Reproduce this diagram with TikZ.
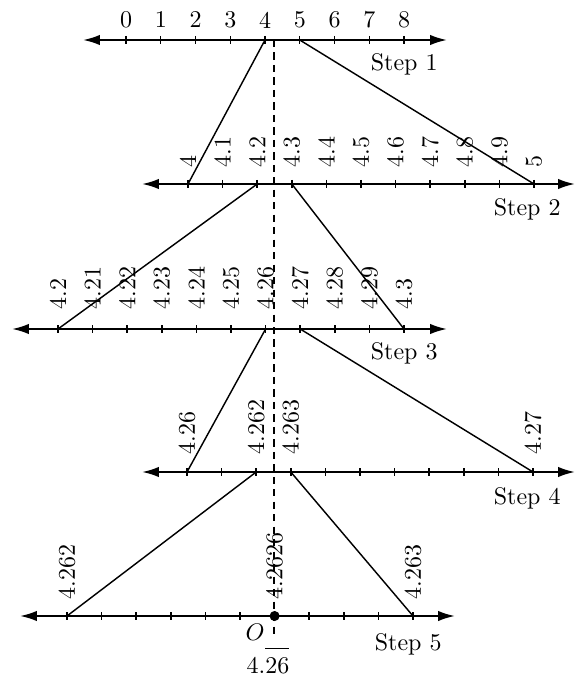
\documentclass[tikz,border=0pt]{standalone}
\usetikzlibrary{arrows.meta}
\begin{document}
\begin{tikzpicture}[x=0.4167pt,y=-0.4167pt,
  axis/.style={line width=0.8pt,{Latex[length=7pt,width=4.3pt]}-{Latex[length=7pt,width=4.3pt]}},
  tickmark/.style={line width=0.6pt},
  link/.style={line width=0.6pt},
  guide/.style={line width=0.6pt,dash pattern=on 3pt off 2.2pt},
  num/.style={inner sep=0pt},
  vnum/.style={rotate=90,anchor=west,inner sep=0pt},
  steplabel/.style={anchor=base east,inner sep=0pt},
  dotnode/.style={circle,fill,inner sep=0pt,minimum size=4.2pt}]
\useasboundingbox (0,0) rectangle (584,677);

% guide line
\coordinate (gtop) at (274,40);
\coordinate (gbot) at (274,637);
\draw[guide] (gtop) -- (gbot);

% ---------- Row 1 ----------
\coordinate (a1L) at (83,40); \coordinate (a1R) at (447,40);
\draw[axis] (a1L) -- (a1R);
\foreach \i in {0,...,8} {
  \coordinate (r1t\i) at ({126+34.75*\i},40);
  \draw[tickmark] (r1t\i) ++(0,-4) -- ++(0,8);
  \node[num] (r1n\i) at ({126+34.75*\i},20) {\i};
}
\node[steplabel] (s1) at (438,71) {Step 1};

% ---------- Row 2 ----------
\coordinate (a2L) at (142,184); \coordinate (a2R) at (575,184);
\draw[axis] (a2L) -- (a2R);
\foreach \i/\l in {0/4,1/4.1,2/4.2,3/4.3,4/4.4,5/4.5,6/4.6,7/4.7,8/4.8,9/4.9,10/5} {
  \coordinate (r2t\i) at ({188+34.6*\i},184);
  \draw[tickmark] (r2t\i) ++(0,-4) -- ++(0,8);
  \node[vnum] (r2n\i) at ({188+34.6*\i},168) {\l};
}
\node[steplabel] (s2) at (561,216) {Step 2};

% ---------- Row 3 ----------
\coordinate (a3L) at (12,329); \coordinate (a3R) at (447,329);
\draw[axis] (a3L) -- (a3R);
\foreach \i/\l in {0/4.2,1/4.21,2/4.22,3/4.23,4/4.24,5/4.25,6/4.26,7/4.27,8/4.28,9/4.29,10/4.3} {
  \coordinate (r3t\i) at ({58+34.6*\i},329);
  \draw[tickmark] (r3t\i) ++(0,-4) -- ++(0,8);
  \node[vnum] (r3n\i) at ({58+34.6*\i},310) {\l};
}
\node[steplabel] (s3) at (438,359) {Step 3};

% ---------- Row 4 ----------
\coordinate (a4L) at (142,472); \coordinate (a4R) at (575,472);
\draw[axis] (a4L) -- (a4R);
\foreach \i in {0,...,10} {
  \coordinate (r4t\i) at ({187+34.6*\i},472);
  \draw[tickmark] (r4t\i) ++(0,-4) -- ++(0,8);
}
\foreach \i/\l in {0/4.26,2/4.262,3/4.263,10/4.27} {
  \node[vnum] (r4n\i) at ({187+34.6*\i},455) {\l};
}
\node[steplabel] (s4) at (561,504) {Step 4};

% ---------- Row 5 ----------
\coordinate (a5L) at (20,616); \coordinate (a5R) at (455,616);
\draw[axis] (a5L) -- (a5R);
\foreach \i in {0,...,10} {
  \coordinate (r5t\i) at ({67+34.6*\i},616);
  \draw[tickmark] (r5t\i) ++(0,-4) -- ++(0,8);
}
\foreach \i/\l in {0/4.262,6/4.2626,10/4.263} {
  \node[vnum] (r5n\i) at ({67+34.6*\i},600) {\l};
}
\node[steplabel] (s5) at (442,650) {Step 5};
\node[dotnode] (dot) at (r5t6) {};
\node[inner sep=0pt] (O) at (255,632) {$O$};
\node[inner sep=0pt,anchor=base] (rep) at (268,673) {$4.\overline{\rule{0pt}{9pt}26}$};

% ---------- links ----------
\draw[link] (r1t4) -- (r2t0);
\draw[link] (r1t5) -- (r2t10);
\draw[link] (r2t2) -- (r3t0);
\draw[link] (r2t3) -- (r3t10);
\draw[link] (r3t6) -- (r4t0);
\draw[link] (r3t7) -- (r4t10);
\draw[link] (r4t2) -- (r5t0);
\draw[link] (r4t3) -- (r5t10);
\end{tikzpicture}
\end{document}
